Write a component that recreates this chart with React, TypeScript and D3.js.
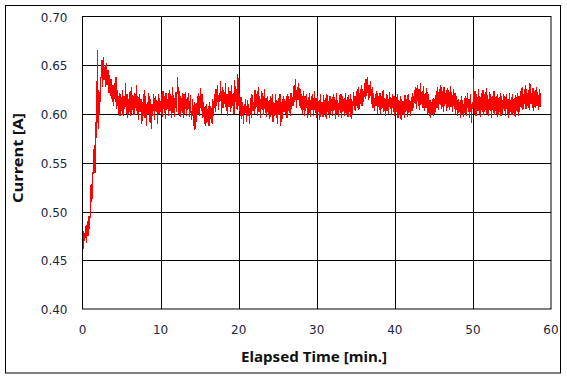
import React from "react";
import * as d3 from "d3";

// Elapsed time step (min) between samples, starting at t = 0
const timeStep = 0.1;

// Current in mA, one row per minute (10 samples each)
const currentMilliAmps: number[] = [
  505, 462, 478, 470, 485, 468, 490, 475, 495, 482,
  502, 528, 510, 532, 548, 568, 540, 592, 575, 666,
  585, 625, 600, 632, 640, 655, 628, 658, 635, 650,
  628, 652, 630, 645, 622, 640, 618, 636, 612, 630,
  608, 632, 612, 638, 605, 625, 600, 622, 598, 620,
  603, 625, 598, 618, 605, 632, 600, 620, 596, 615,
  602, 624, 598, 628, 604, 618, 599, 622, 606, 630,
  600, 618, 594, 620, 602, 615, 590, 612, 598, 625,
  596, 618, 588, 612, 600, 622, 592, 615, 585, 610,
  598, 620, 594, 618, 603, 614, 590, 620, 600, 616,
  602, 620, 597, 624, 605, 618, 595, 622, 604, 615,
  598, 625, 603, 620, 596, 628, 601, 619, 597, 623,
  602, 621, 638, 600, 624, 597, 618, 603, 622, 596,
  620, 600, 623, 598, 617, 604, 621, 597, 619, 601,
  594, 615, 588, 612, 584, 610, 592, 618, 600, 622,
  598, 627, 603, 620, 596, 612, 590, 608, 588, 610,
  592, 608, 588, 612, 595, 606, 590, 615, 598, 620,
  602, 626, 608, 630, 604, 622, 612, 634, 600, 628,
  606, 625, 610, 632, 603, 620, 598, 628, 607, 624,
  602, 630, 608, 622, 600, 635, 612, 626, 604, 641,
  608, 622, 598, 617, 595, 612, 590, 610, 600, 615,
  592, 614, 598, 610, 590, 616, 596, 620, 603, 612,
  600, 625, 605, 620, 598, 628, 602, 618, 596, 624,
  604, 621, 599, 626, 601, 616, 597, 618, 600, 614,
  595, 618, 600, 621, 592, 612, 598, 620, 596, 614,
  590, 616, 600, 620, 588, 612, 595, 618, 602, 615,
  600, 618, 596, 620, 603, 615, 598, 622, 605, 617,
  608, 630, 612, 636, 606, 628, 614, 632, 608, 626,
  604, 620, 600, 624, 598, 618, 603, 621, 596, 617,
  600, 622, 597, 618, 604, 620, 598, 624, 601, 616,
  596, 618, 602, 614, 594, 620, 599, 612, 597, 619,
  600, 616, 595, 621, 602, 613, 596, 618, 600, 615,
  598, 620, 603, 617, 595, 622, 600, 614, 597, 619,
  601, 621, 596, 618, 603, 616, 598, 622, 600, 617,
  597, 619, 602, 620, 595, 615, 600, 623, 604, 618,
  603, 624, 606, 628, 604, 622, 610, 630, 608, 626,
  612, 632, 615, 636, 618, 638, 614, 630, 616, 634,
  610, 628, 606, 622, 603, 620, 608, 624, 600, 618,
  604, 622, 600, 618, 606, 625, 602, 616, 598, 620,
  603, 619, 600, 623, 605, 617, 599, 621, 602, 618,
  598, 616, 602, 620, 596, 614, 600, 618, 594, 615,
  600, 613, 596, 619, 602, 615, 597, 620, 601, 614,
  598, 617, 603, 621, 606, 625, 610, 628, 605, 630,
  608, 626, 604, 632, 610, 624, 606, 629, 603, 622,
  606, 627, 600, 620, 598, 614, 596, 612, 600, 616,
  598, 615, 602, 624, 606, 628, 604, 626, 609, 630,
  605, 624, 602, 628, 608, 622, 603, 627, 606, 625,
  604, 629, 607, 623, 602, 626, 605, 621, 600, 618,
  598, 615, 601, 612, 596, 618, 600, 614, 597, 616,
  600, 618, 598, 622, 602, 615, 596, 620, 591, 612,
  605, 636, 600, 624, 598, 620, 603, 626, 600, 618,
  597, 622, 602, 625, 599, 620, 604, 627, 600, 619,
  598, 623, 603, 620, 596, 618, 601, 624, 599, 617,
  600, 620, 597, 616, 602, 622, 598, 618, 600, 621,
  603, 618, 598, 620, 600, 615, 596, 622, 602, 617,
  599, 621, 601, 616, 597, 619, 603, 622, 598, 618,
  602, 624, 606, 628, 604, 620, 610, 630, 605, 626,
  608, 625, 604, 632, 610, 622, 606, 627, 603, 624,
  606, 628, 608, 623, 604, 626, 607, 621,
];

const xTicks = [0, 10, 20, 30, 40, 50, 60];
const yTicks = [0.4, 0.45, 0.5, 0.55, 0.6, 0.65, 0.7];
const xTitle = "Elapsed Time [min.]";
const yTitle = "Current [A]";

export default function App() {
  const W = 567;
  const H = 379;
  const left = 82.5;
  const right = 551;
  const top = 16.5;
  const bottom = 309;

  const x = d3.scaleLinear().domain([0, 60]).range([left, right]);
  const y = d3.scaleLinear().domain([0.4, 0.7]).range([bottom, top]);

  const data = currentMilliAmps.map((v, i) => ({ t: i * timeStep, a: v / 1000 }));
  const line = d3
    .line<{ t: number; a: number }>()
    .x((d) => x(d.t))
    .y((d) => y(d.a));

  const tickFont = "'DejaVu Sans', sans-serif";
  const titleFont = "'Noto Sans', sans-serif";

  return (
    <svg
      width={W}
      height={H}
      style={{ position: "absolute", left: 0, top: 0, background: "#fff" }}
    >
      <rect x={0} y={0} width={W} height={H} fill="#fff" />
      <rect x={5.5} y={5.5} width={555} height={367.5} fill="none" stroke="#000" strokeWidth={1} />
      {xTicks.slice(1, -1).map((t) => (
        <line key={"gx" + t} x1={Math.round(x(t)) + 0.5} x2={Math.round(x(t)) + 0.5} y1={top} y2={bottom} stroke="#000" strokeWidth={1} />
      ))}
      {yTicks.slice(1, -1).map((v) => (
        <line key={"gy" + v} x1={left} x2={right} y1={Math.round(y(v)) + 0.5} y2={Math.round(y(v)) + 0.5} stroke="#000" strokeWidth={1} />
      ))}
      <path d={line(data) || ""} fill="none" stroke="#ff0000" strokeWidth={1.1} strokeLinejoin="miter" shapeRendering="crispEdges" />
      <rect x={left} y={top} width={right - left} height={bottom - top} fill="none" stroke="#000" strokeWidth={1} />
      {yTicks.map((v) => (
        <text key={"ty" + v} x={67.5} y={y(v) + 5} textAnchor="end" fontFamily={tickFont} fontSize={12} fill="#1c2640">
          {v.toFixed(2)}
        </text>
      ))}
      {xTicks.map((t) => (
        <text key={"tx" + t} x={x(t)} y={334} textAnchor="middle" fontFamily={tickFont} fontSize={12} fill="#1c2640">
          {t}
        </text>
      ))}
      <text x={314} y={362} textAnchor="middle" fontFamily={titleFont} fontSize={15} fontWeight="bold" fill="#111" textLength={146} lengthAdjust="spacingAndGlyphs">
        {xTitle}
      </text>
      <text
        transform={`translate(23,158) rotate(-90)`}
        textAnchor="middle"
        fontFamily={titleFont}
        fontSize={15}
        fontWeight="bold"
        fill="#111"
        textLength={90}
        lengthAdjust="spacingAndGlyphs"
      >
        {yTitle}
      </text>
    </svg>
  );
}
